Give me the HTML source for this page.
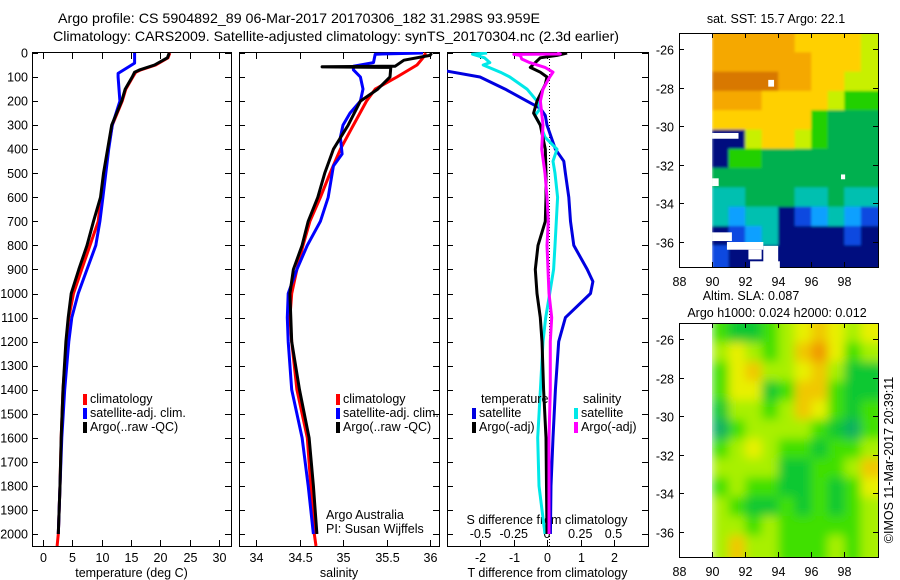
<!DOCTYPE html>
<html><head><meta charset="utf-8"><style>
body{margin:0;background:#fff;}
svg{display:block;font-family:"Liberation Sans",sans-serif;}
text{font-size:12.5px;fill:#000;}
</style></head><body>
<svg id="fig" width="900" height="580" viewBox="0 0 900 580" xmlns="http://www.w3.org/2000/svg">
<defs>
<filter id="blurA" x="-5%" y="-5%" width="110%" height="110%"><feGaussianBlur stdDeviation="5"/></filter>
<filter id="blurB" x="-5%" y="-5%" width="110%" height="110%"><feGaussianBlur stdDeviation="1.2"/></filter>
</defs>
<text x="58" y="23" textLength="482" lengthAdjust="spacingAndGlyphs" style="font-size:14px">Argo profile: CS 5904892_89 06-Mar-2017 20170306_182 31.298S 93.959E</text>
<text x="53" y="41" textLength="566" lengthAdjust="spacingAndGlyphs" style="font-size:14px">Climatology: CARS2009. Satellite-adjusted climatology: synTS_20170304.nc (2.3d earlier)</text>
<g id="g"></g>
</svg>
<script>
// ---- data ----
const tDepth=[0,20,50,70,80,100,150,200,300,400,500,600,700,800,900,1000,1100,1200,1400,1600,1800,2000,2050];
const tClim=[21.6,21.3,19.2,16.7,15.8,15.3,14.1,13.5,11.8,11.1,10.4,9.9,9.4,8.0,6.6,5.2,4.4,4.0,3.4,3.1,2.9,2.6,2.4];
const tArgoDepth=[0,20,50,70,80,100,150,200,300,400,500,600,700,800,900,1000,1100,1200,1400,1600,1800,2000];
const tArgo=[21.5,21.2,19.0,16.5,15.6,15.2,14.0,13.4,11.7,11.0,10.3,9.8,8.6,7.5,6.1,4.8,4.3,3.9,3.4,3.1,2.9,2.6];
const tSatDepth=[0,42,85,100,200,300,400,500,600,700,800,900,1000,1100,1200,1400,1600,1800,2000];
const tSat=[15.6,15.6,12.8,12.8,13.1,11.8,11.2,10.7,10.2,9.7,9.0,7.5,6.0,4.9,4.4,3.7,3.2,2.9,2.6];

const sDepth=[0,20,50,100,150,200,300,400,500,600,700,800,900,1000,1100,1200,1400,1600,1800,2000,2050];
const sClim=[35.95,35.92,35.85,35.62,35.37,35.27,35.12,34.97,34.85,34.74,34.62,34.54,34.47,34.41,34.39,34.41,34.47,34.59,34.63,34.67,34.69];
const sArgoDepth=[0,10,30,55,57,58,60,100,150,200,300,400,500,600,700,800,900,1000,1200,1400,1600,1800,2000];
const sArgo=[36.02,36.0,35.7,35.6,34.76,34.76,35.55,35.54,35.4,35.2,35.06,34.89,34.79,34.71,34.6,34.53,34.43,34.39,34.41,34.5,34.61,34.66,34.7];
const sSatDepth=[0,5,40,55,70,100,150,200,250,300,350,420,470,600,700,800,900,1000,1100,1200,1400,1600,1800,2000];
const sSat=[35.92,35.37,35.35,35.12,35.12,35.2,35.23,35.2,35.08,35.0,34.97,34.99,34.89,34.83,34.74,34.59,34.47,34.37,34.36,34.37,34.41,34.53,34.6,34.66];

const dtSatDepth=[60,100,150,200,230,260,300,400,450,500,600,700,800,900,950,1000,1100,1200,1400,1600,1800,2000];
const dtSat=[-3.6,-2.0,-1.25,-0.6,-0.2,-0.05,0.0,0.25,0.5,0.55,0.65,0.7,0.8,1.2,1.37,1.3,0.55,0.35,0.25,0.18,0.12,0.1];
const dtArgoDepth=[0,10,20,40,60,80,100,130,200,250,300,400,500,600,700,800,900,1000,1100,1200,1400,1600,2000];
const dtArgo=[0.6,0.3,-0.2,-0.35,-0.5,-0.2,0.0,-0.05,-0.3,-0.4,-0.2,-0.05,-0.03,-0.03,-0.05,-0.27,-0.35,-0.3,-0.2,-0.15,-0.1,-0.03,0.0];
const dsSatDepth=[0,5,20,40,50,80,100,150,200,230,260,300,350,400,450,500,600,700,800,900,1000,1100,1200,1400,1600,1800,2000];
const dsSat=[-0.45,-0.56,-0.47,-0.43,-0.48,-0.35,-0.28,-0.15,-0.075,-0.05,-0.09,-0.05,-0.015,0.075,0.045,0.06,0.08,0.07,0.06,0.05,0.02,-0.01,-0.03,-0.05,-0.07,-0.06,-0.015];
const dsArgoDepth=[0,4,6,10,25,40,60,80,100,150,200,300,400,500,600,700,800,1000,1100,1200,1400,1600,2000];
const dsArgo=[0.075,0.1,-0.25,-0.2,-0.19,-0.13,-0.015,0.045,0.02,-0.03,-0.05,-0.03,-0.04,-0.015,0.0,0.01,0.0,0.015,0.035,0.025,0.025,0.015,0.015];

const depthTicks=[0,100,200,300,400,500,600,700,800,900,1000,1100,1200,1300,1400,1500,1600,1700,1800,1900,2000];
const tTicks=[0,5,10,15,20,25,30];
const sTicks=[34,34.5,35,35.5,36];
const sTickLabels=["34","34.5","35","35.5","36"];
const dtTicks=[-2,-1,0,1,2];
const dsTicks=[-0.5,-0.25,0,0.25,0.5];
const dsTickLabels=["-0.5","-0.25","0","0.25","0.5"];
const lonTicks=[88,90,92,94,96,98];
const latTicks=[-26,-28,-30,-32,-34,-36];

const sstRows=[
[8,8,8,8,8,7,7,7,7,6],[8,8,8,8,8,8,7,7,7,6],[9,9,9,9,8,8,7,7,6,6],[8,8,8,7,7,7,7,6,5,5],
[7,7,7,7,7,7,5,4,4,4],[0,0,6,7,7,6,5,4,4,4],[0,5,5,4,4,4,4,4,4,4],[4,4,4,4,4,4,4,4,4,4],
[3,3,4,4,4,3,3,4,3,3],[3,2,3,3,0,1,2,3,2,1],[0,1,2,3,0,0,0,0,1,0],[1,0,0,0,0,0,0,0,0,0]];
const sstColors=["#00087f","#0a48e0","#0aa0ff","#00c0b0","#00b050","#20d000","#c8f000","#ffd000","#f5a800","#d87800"];
const slaRows=[
[2,1,1,2,3,4,5,4,3,4],[3,4,3,2,3,5,6,4,2,3],[2,4,5,3,3,4,5,3,1,1],[2,4,4,1,2,5,5,2,1,1],
[1,3,3,2,3,5,4,2,1,2],[0,2,3,3,3,3,2,1,0,2],[2,3,4,3,2,2,1,2,2,3],[3,3,3,3,1,1,2,2,3,5],
[2,3,2,2,1,1,2,1,2,4],[3,2,1,1,2,1,2,1,2,3],[3,3,2,3,2,2,2,2,2,3],[3,5,3,3,2,2,2,3,2,3]];
const slaColors=["#10b060","#10c830","#40e000","#a8f000","#e8f000","#f0c800","#f09800"];

// ---- drawing ----
const NS="http://www.w3.org/2000/svg";
const G=document.getElementById('g');
function el(tag,attrs,parent){const e=document.createElementNS(NS,tag);for(const k in attrs)e.setAttribute(k,attrs[k]);(parent||G).appendChild(e);return e;}
const yD=d=>53+d*0.2405;
const PB=546;
function panel(name,x0,x1,xf,ticks,labels,xlabel){
  const g=el('g',{});
  
  
  const clip=el('clipPath',{id:'c'+name},g);
  el('rect',{x:x0,y:52,width:x1-x0,height:PB-52},clip);
  const frame=el('rect',{x:x0+0.5,y:52.5,width:x1-x0,height:PB-52,fill:'none',stroke:'#000','stroke-width':1},g);
  
  
  depthTicks.forEach(d=>{const y=Math.round(yD(d))+0.5;
    el('line',{x1:x0,x2:x0+6,y1:y,y2:y,stroke:'#000'},g);
    el('line',{x1:x1-6,x2:x1,y1:y,y2:y,stroke:'#000'},g);});
  ticks.forEach((t,i)=>{const x=Math.round(xf(t))+0.5;
    el('line',{x1:x,x2:x,y1:PB-6,y2:PB,stroke:'#000'},g);
    el('line',{x1:x,x2:x,y1:53,y2:59,stroke:'#000'},g);
    const tx=el('text',{x:x,y:562,'text-anchor':'middle'},g);tx.textContent=labels[i];
    
    });
  const xl=el('text',{x:(x0+x1)/2,y:577,'text-anchor':'middle'},g);xl.textContent=xlabel;
  
  
  return g;
}
function line(g,clipId,xs,ds,xf,color,name,w){
  const p=xs.map((v,i)=>(i?'L':'M')+xf(v).toFixed(1)+','+yD(ds[i]).toFixed(1)).join('');
  const e=el('path',{d:p,fill:'none',stroke:color,'stroke-width':w||3,'stroke-linejoin':'round','clip-path':'url(#c'+clipId+')'},g);
  
  
}
function legend(g,x,y,items){items.forEach((it,i)=>{
  const r=el('rect',{x:x,y:y+i*14-9,width:4,height:11,fill:it[1]},g);
  
  
  const t=el('text',{x:x+7,y:y+i*14},g);t.textContent=it[0];
  
  });}

const xT=t=>43+t*5.87;
const p1=panel('temperature-panel',32,231,xT,tTicks,tTicks.map(String),'temperature (deg C)');
depthTicks.forEach(d=>{const t=el('text',{x:28,y:yD(d)+4.5,'text-anchor':'end'},p1);t.textContent=d;
  
  });
line(p1,'temperature-panel',tClim,tDepth,xT,'#ff0000','temp-climatology-line');
line(p1,'temperature-panel',tSat,tSatDepth,xT,'#0000ff','temp-satellite-line');
line(p1,'temperature-panel',tArgo,tArgoDepth,xT,'#000000','temp-argo-line');
legend(p1,83,403,[['climatology','#ff0000'],['satellite-adj. clim.','#0000ff'],['Argo(..raw -QC)','#000']]);

const xS=s=>256+(s-34)*87;
const p2=panel('salinity-panel',239,439,xS,sTicks,sTickLabels,'salinity');
line(p2,'salinity-panel',sClim,sDepth,xS,'#ff0000','sal-climatology-line');
line(p2,'salinity-panel',sSat,sSatDepth,xS,'#0000ff','sal-satellite-line');
line(p2,'salinity-panel',sArgo,sArgoDepth,xS,'#000000','sal-argo-line');
legend(p2,336,403,[['climatology','#ff0000'],['satellite-adj. clim.','#0000ff'],['Argo(..raw -QC)','#000']]);
let t1=el('text',{x:326,y:519},p2);t1.textContent='Argo Australia';

let t2=el('text',{x:326,y:533},p2);t2.textContent='PI: Susan Wijffels';


const xDT=t=>547+t*33.5;
const xDS=s=>547+s*133;
const p3=panel('difference-panel',447,648,xDT,dtTicks,dtTicks.map(String),'T difference from climatology');
el('line',{x1:549.5,x2:549.5,y1:53,y2:PB,stroke:'#000','stroke-dasharray':'1,2'},p3);
dsTicks.forEach((s,i)=>{const t=el('text',{x:xDS(s),y:538,'text-anchor':'middle'},p3);t.textContent=dsTickLabels[i];
  });
let t3=el('text',{x:547,y:524,'text-anchor':'middle'},p3);t3.textContent='S difference from climatology';

line(p3,'difference-panel',dtSat,dtSatDepth,xDT,'#0000e0','tdiff-satellite-line');
line(p3,'difference-panel',dsSat,dsSatDepth,xDS,'#00e8e8','sdiff-satellite-line');
line(p3,'difference-panel',dtArgo,dtArgoDepth,xDT,'#000000','tdiff-argo-line');
line(p3,'difference-panel',dsArgo,dsArgoDepth,xDS,'#ff00ff','sdiff-argo-line');
let t4=el('text',{x:481,y:403},p3);t4.textContent='temperature';
let t5=el('text',{x:583,y:403},p3);t5.textContent='salinity';
legend(p3,472,417,[['satellite','#0000e0'],['Argo(-adj)','#000']]);
legend(p3,574,417,[['satellite','#00e8e8'],['Argo(-adj)','#ff00ff']]);

function map(name,top,rows,colors,titles,filt){
  const g=el('g',{});
  
  
  const L=679,R=878,bot=top+234;
  const xL=lon=>679+(lon-88)*16.53;
  const yL=lat=>top+16+(-26-lat)*19.3;
  const latTop=-26+16/19.3, latBot=-26-(bot-top-16)/19.3;
  const cp=el('clipPath',{id:'clip'+name},g);
  el('rect',{x:xL(90),y:top,width:R-xL(90),height:bot-top},cp);
  const cg=el('g',{'clip-path':'url(#clip'+name+')'},g);
  const fg=el('g',{filter:'url(#'+filt+')'},cg);
  rows.forEach((row,ri)=>row.forEach((v,ci)=>{
    let y0=yL(latTop-ri), y1=ri==rows.length-1?bot:yL(latTop-ri-1);
    let x0=xL(90+ci), x1=xL(91+ci);
    if(ri==0) y0-=8; if(ri==rows.length-1) y1+=8; if(ci==row.length-1) x1+=8; if(ci==0) x0-=0;
    const r=el('rect',{x:x0,y:y0,width:x1-x0+0.5,height:y1-y0+0.5,fill:colors[v]},fg);
    
    
  }));
  el('rect',{x:L+0.5,y:top+0.5,width:R-L,height:bot-top,fill:'none',stroke:'#000'},g);
  lonTicks.forEach(lon=>{const x=Math.round(xL(lon))+0.5;
    el('line',{x1:x,x2:x,y1:bot-5,y2:bot,stroke:'#000'},g);el('line',{x1:x,x2:x,y1:top,y2:top+5,stroke:'#000'},g);
    const t=el('text',{x:x,y:bot+19,'text-anchor':'middle','font-size':'13'},g);t.textContent=lon;
    });
  latTicks.forEach(lat=>{const y=Math.round(yL(lat))+0.5;
    el('line',{x1:L,x2:L+5,y1:y,y2:y,stroke:'#000'},g);el('line',{x1:R-5,x2:R,y1:y,y2:y,stroke:'#000'},g);
    const t=el('text',{x:674,y:y+5,'text-anchor':'end','font-size':'13'},g);t.textContent=lat;
    });
  titles.forEach(s=>{const t=el('text',{x:s[1],y:s[2],'text-anchor':'middle'},g);t.textContent=s[0];
    });
  return g;
}
map('sst-map',33,sstRows,sstColors,[['sat. SST: 15.7 Argo: 22.1',776,23]],'blurB');
map('sla-map',323,slaRows,slaColors,[['Altim. SLA: 0.087',751,300],['Argo h1000: 0.024 h2000: 0.012',777,317]],'blurA');
[[90,-30.35,1.6,0.3],[90,-32.7,0.4,0.4],[93.4,-27.6,0.35,0.35],[97.8,-32.5,0.25,0.25],[90,-35.5,1.2,0.45],[90.9,-36.0,2.2,0.4],[92.2,-36.4,0.8,0.5],[93.1,-36.2,0.9,1.2],[92.3,-37.0,1.8,0.4]].forEach(h=>{
  const r=el('rect',{x:679+(h[0]-88)*16.53,y:49+(-26-h[1])*19.3,width:h[2]*16.53,height:h[3]*19.3,fill:'#fff'});
  
  
});
const cr=el('text',{x:0,y:0,transform:'translate(893,460) rotate(-90)','text-anchor':'middle'});
cr.textContent='©IMOS 11-Mar-2017 20:39:11';


</script>
</body></html>
